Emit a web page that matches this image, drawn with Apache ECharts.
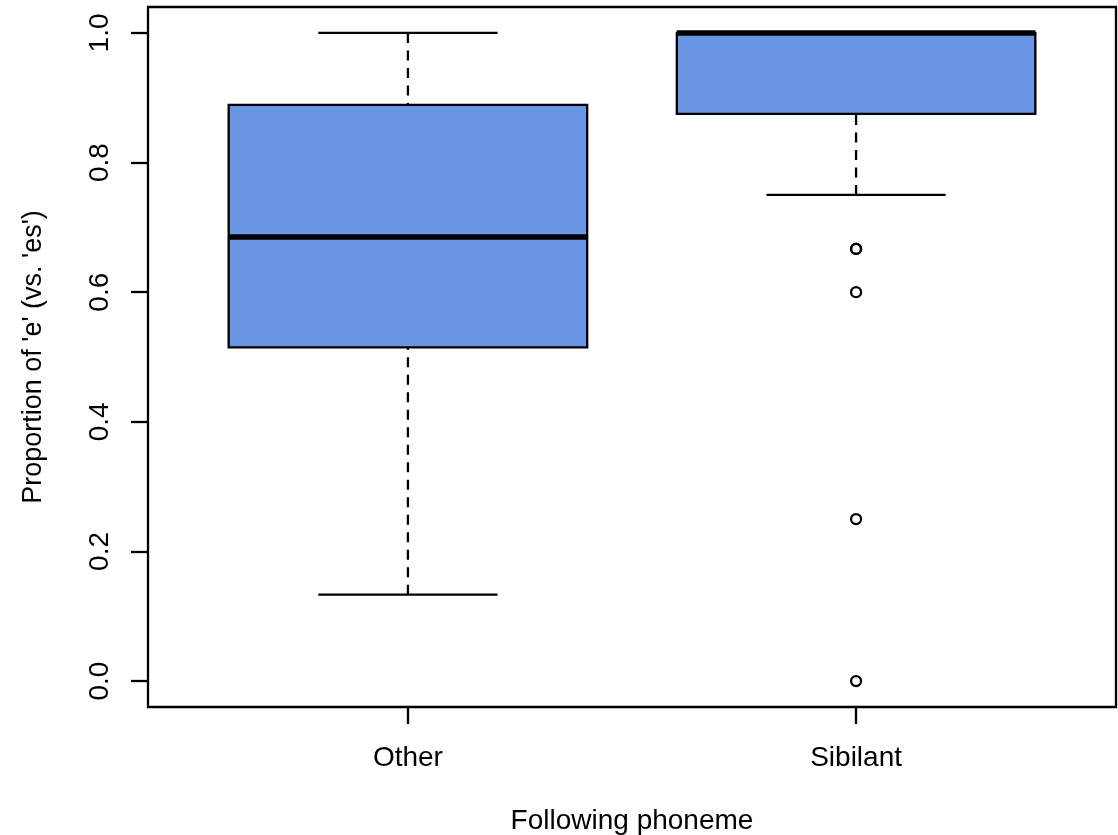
<!DOCTYPE html>
<html>
<head>
<meta charset="utf-8">
<script src="https://cdn.jsdelivr.net/npm/echarts@6/dist/echarts.min.js"></script>
<style>
html,body{margin:0;padding:0;background:#fff;}
#chart{width:1118px;height:835px;}
</style>
</head>
<body>
<div id="chart"></div>
<script>
// ---- data ----
const categories = ['Other', 'Sibilant'];
const lowerWhisker = [0.1333, 0.75];
const q1 = [0.515, 0.875];
const medians = [0.685, 1.0];
const q3 = [0.889, 1.0];
const upperWhisker = [1.0, 1.0];
const outlierCategory = ['Sibilant', 'Sibilant', 'Sibilant', 'Sibilant', 'Sibilant'];
const outlierValues = [0.6667, 0.6667, 0.6, 0.25, 0.0];
const yTicks = [0, 0.2, 0.4, 0.6, 0.8, 1.0];
const xTitle = 'Following phoneme';
const yTitle = "Proportion of 'e' (vs. 'es')";

// ---- build ----
const FONT = 'Liberation Sans, Arial, sans-serif';
const boxData = categories.map((c, i) => [i + 1, lowerWhisker[i], q1[i], medians[i], q3[i], upperWhisker[i]]);
const outlierData = outlierCategory.map((c, i) => [categories.indexOf(c) + 1, outlierValues[i]]);

const BOX_HALF = 0.4, STAPLE_HALF = 0.2;
function renderBox(params, api) {
  const x = api.value(0);
  const lo = api.coord([x, api.value(1)]);
  const b1 = api.coord([x, api.value(2)]);
  const md = api.coord([x, api.value(3)]);
  const b3 = api.coord([x, api.value(4)]);
  const hi = api.coord([x, api.value(5)]);
  const xl = api.coord([x - BOX_HALF, 0])[0];
  const xr = api.coord([x + BOX_HALF, 0])[0];
  const sl = api.coord([x - STAPLE_HALF, 0])[0];
  const sr = api.coord([x + STAPLE_HALF, 0])[0];
  const cx = lo[0];
  const dashStyle = {stroke: '#000', lineWidth: 2.3, lineDash: [10, 7.5], fill: null};
  const solid = {stroke: '#000', lineWidth: 2.3, fill: null};
  return {
    type: 'group',
    children: [
      {type: 'rect', shape: {x: xl, y: b3[1], width: xr - xl, height: b1[1] - b3[1]},
       style: {fill: '#6A95E3', stroke: '#000', lineWidth: 2.3}},
      {type: 'line', shape: {x1: cx, y1: lo[1], x2: cx, y2: b1[1]}, style: dashStyle},
      {type: 'line', shape: {x1: cx, y1: hi[1], x2: cx, y2: b3[1]}, style: dashStyle},
      {type: 'line', shape: {x1: sl, y1: lo[1], x2: sr, y2: lo[1]}, style: solid},
      {type: 'line', shape: {x1: sl, y1: hi[1], x2: sr, y2: hi[1]}, style: solid},
      {type: 'line', shape: {x1: xl, y1: md[1], x2: xr, y2: md[1]}, style: {stroke: '#000', lineWidth: 5.5}}
    ]
  };
}

const chart = echarts.init(document.getElementById('chart'), null, {renderer: 'canvas'});
chart.setOption({
  animation: false,
  backgroundColor: '#fff',
  grid: {left: 148, top: 7, width: 968, height: 700, show: true, borderColor: '#000', borderWidth: 2.3,
         containLabel: false, outerBoundsMode: 'none'},
  xAxis: {
    type: 'value', min: 0.42, max: 2.58,
    splitLine: {show: false},
    axisLine: {show: false, onZero: false},
    axisTick: {show: true, length: 17, lineStyle: {color: '#000', width: 2.3}, customValues: [1, 2]},
    axisLabel: {show: true, customValues: [1, 2], formatter: v => categories[Math.round(v) - 1] || '',
                color: '#000', fontSize: 28, fontFamily: FONT, margin: 37},
    name: xTitle, nameLocation: 'middle', nameGap: 100,
    nameTextStyle: {color: '#000', fontSize: 28, fontFamily: FONT}
  },
  yAxis: {
    type: 'value', min: -0.04, max: 1.04,
    splitLine: {show: false},
    axisLine: {show: false, onZero: false},
    axisTick: {show: true, length: 17, lineStyle: {color: '#000', width: 2.3}, customValues: yTicks},
    axisLabel: {show: true, customValues: yTicks, formatter: v => v.toFixed(1), rotate: 90,
                color: '#000', fontSize: 28, fontFamily: FONT, margin: 34},
    name: yTitle, nameLocation: 'middle', nameGap: 101, nameRotate: 90,
    nameTextStyle: {color: '#000', fontSize: 27, fontFamily: FONT}
  },
  series: [
    {type: 'custom', renderItem: renderBox, data: boxData, encode: {x: 0, y: [1, 2, 3, 4, 5]}, z: 2},
    {type: 'scatter', data: outlierData, symbol: 'circle', symbolSize: 10,
     itemStyle: {color: 'rgba(0,0,0,0)', borderColor: '#000', borderWidth: 2.3, opacity: 1}, z: 3}
  ]
});
</script>
</body>
</html>
